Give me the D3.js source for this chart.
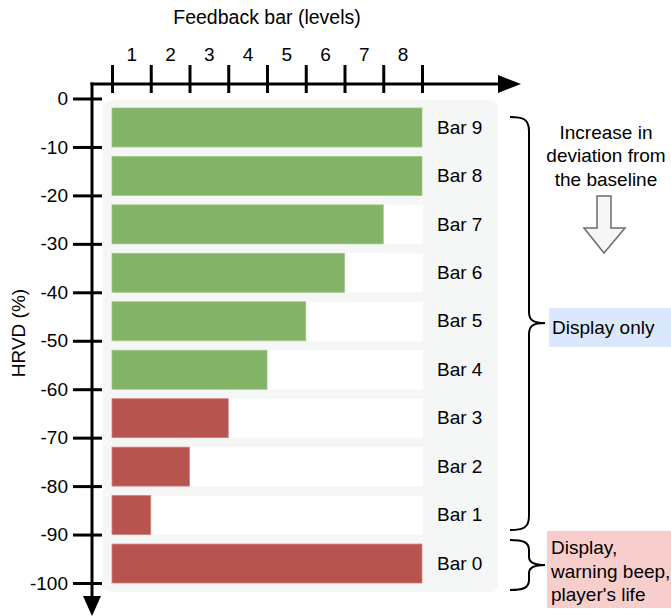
<!DOCTYPE html>
<html>
<head>
<meta charset="utf-8">
<script src="https://cdn.jsdelivr.net/npm/d3@7"></script>
<style>
  html, body { margin: 0; padding: 0; background: #ffffff; }
  svg { display: block; }
  text { font-family: "Liberation Sans", Arial, Helvetica, sans-serif; fill: #000; }
</style>
</head>
<body>
<svg id="chart" width="671" height="616"></svg>
<script>
// ---- data ----
const categories = ["Bar 9", "Bar 8", "Bar 7", "Bar 6", "Bar 5", "Bar 4", "Bar 3", "Bar 2", "Bar 1", "Bar 0"];
const levels     = [8, 8, 7, 6, 5, 4, 3, 2, 1, 8];
const hrvdUpper  = [0, -10, -20, -30, -40, -50, -60, -70, -80, -90];
const hrvdLower  = [-10, -20, -30, -40, -50, -60, -70, -80, -90, -100];
const zones      = ["safe", "safe", "safe", "safe", "safe", "safe", "alert", "alert", "alert", "alert"];
const levelTicks = [0, 1, 2, 3, 4, 5, 6, 7, 8];
const levelLabels = ["1", "2", "3", "4", "5", "6", "7", "8"];
const hrvdTicks  = [0, -10, -20, -30, -40, -50, -60, -70, -80, -90, -100];
const xTitle = "Feedback bar (levels)";
const yTitle = "HRVD (%)";
const noteLines = ["Increase in", "deviation from", "the baseline"];
const displayOnly = "Display only";
const alertLines = ["Display,", "warning beep,", "player's life"];

// ---- setup ----
const svg = d3.select("#chart");
const FONT = 19;
const x = d3.scaleLinear().domain([0, 8]).range([112, 422]);
const y = d3.scaleLinear().domain([0, -100]).range([98.5, 583]);
const color = d3.scaleOrdinal().domain(["safe", "alert"]).range(["#82b366", "#b85450"]);

const rows = categories.map((c, i) => ({
  name: c, level: levels[i], hi: hrvdUpper[i], lo: hrvdLower[i], zone: zones[i]
}));

// panel background
svg.append("rect")
  .attr("x", 103).attr("y", 100).attr("width", 395).attr("height", 492)
  .attr("rx", 8).attr("fill", "#f5f6f6");

// tracks (white)
const barGap = 9.5;
svg.append("g").selectAll("rect").data(rows).join("rect")
  .attr("x", x(0)).attr("width", x(8) - x(0) + 1)
  .attr("y", d => y(d.hi) + barGap)
  .attr("height", d => y(d.lo) - y(d.hi) - barGap)
  .attr("fill", "#ffffff");

// bars
svg.append("g").selectAll("rect").data(rows).join("rect")
  .attr("x", x(0))
  .attr("width", d => x(d.level) - x(0))
  .attr("y", d => y(d.hi) + barGap)
  .attr("height", d => y(d.lo) - y(d.hi) - barGap)
  .attr("fill", d => color(d.zone))
  .attr("stroke", d => d.zone === "safe" ? "#9cc585" : "#d4807c")
  .attr("stroke-width", 0.8);

// bar labels
svg.append("g").selectAll("text").data(rows).join("text")
  .attr("x", 437)
  .attr("y", d => (y(d.hi) + barGap + y(d.lo)) / 2 - 0.5)
  .attr("dy", "0.35em")
  .attr("font-size", FONT)
  .text(d => d.name);

// ---- axes ----
const axisX = 92, axisY = 84;
// horizontal axis line + arrow
svg.append("line").attr("x1", axisX - 1.5).attr("x2", 500).attr("y1", axisY).attr("y2", axisY)
  .attr("stroke", "#000").attr("stroke-width", 3);
svg.append("path").attr("d", `M498,${axisY - 9} L521,${axisY} L498,${axisY + 9} Z`).attr("fill", "#000");
// vertical axis line + arrow
svg.append("line").attr("x1", axisX).attr("x2", axisX).attr("y1", axisY - 1.5).attr("y2", 598)
  .attr("stroke", "#000").attr("stroke-width", 3);
svg.append("path").attr("d", `M${axisX - 9},596 L${axisX},616 L${axisX + 9},596 Z`).attr("fill", "#000");

// top ticks
const topAxis = svg.append("g").attr("transform", "translate(0,93)")
  .call(d3.axisTop(x).tickValues(levelTicks).tickSize(28).tickFormat(""));
topAxis.select(".domain").remove();
topAxis.selectAll("line").attr("stroke", "#000").attr("stroke-width", 3);

// top labels (centered in each interval)
const topLab = svg.append("g").attr("transform", "translate(0,61)")
  .call(d3.axisTop(x).tickValues(levelLabels.map((l, i) => i + 0.5)).tickSize(0).tickPadding(0)
    .tickFormat((d, i) => levelLabels[i]));
topLab.select(".domain").remove();
topLab.selectAll("text").attr("font-size", FONT).attr("font-family", "Liberation Sans, Arial, sans-serif")
  .attr("fill", "#000").attr("dy", 0);

// left ticks
const leftAxis = svg.append("g").attr("transform", "translate(102,0)")
  .call(d3.axisLeft(y).tickValues(hrvdTicks).tickSize(29).tickPadding(5).tickFormat(d => String(d)));
leftAxis.select(".domain").remove();
leftAxis.selectAll("line").attr("stroke", "#000").attr("stroke-width", 3);
leftAxis.selectAll("text").attr("font-size", FONT).attr("font-family", "Liberation Sans, Arial, sans-serif")
  .attr("fill", "#000");

// titles
svg.append("text").attr("x", (x(0) + x(8)) / 2).attr("y", 24)
  .attr("text-anchor", "middle").attr("font-size", 19.5).text(xTitle);
svg.append("text").attr("transform", "translate(25,333) rotate(-90)")
  .attr("text-anchor", "middle").attr("font-size", FONT).text(yTitle);

// ---- annotations ----
// big brace
svg.append("path")
  .attr("d", "M510,117 C523,117 529,119 529,131 L529,312 C529,320 533,323 545,323 " +
             "M545,323 C533,323 529,326 529,334 L529,516 C529,528 523,530 510,530")
  .attr("fill", "none").attr("stroke", "#000").attr("stroke-width", 2);
// small brace
svg.append("path")
  .attr("d", "M510,540 C523,540 529,542 529,550 L529,557 C529,562 533,565 545,565 " +
             "M545,565 C533,565 529,568 529,573 L529,580 C529,588 523,590 510,590")
  .attr("fill", "none").attr("stroke", "#000").attr("stroke-width", 2);

// note text
svg.append("g").selectAll("text").data(noteLines).join("text")
  .attr("x", 606).attr("y", (d, i) => 138.5 + i * 23.5)
  .attr("text-anchor", "middle").attr("font-size", FONT).text(d => d);

// hollow down arrow
svg.append("path")
  .attr("d", "M597,196 L611,196 L611,228 L625,228 L604,253 L584,228 L597,228 Z")
  .attr("fill", "#f5f6f6").attr("stroke", "#6b6b6b").attr("stroke-width", 1.5)
  .attr("stroke-linejoin", "miter");

// display only box
svg.append("rect").attr("x", 549).attr("y", 308).attr("width", 130).attr("height", 39)
  .attr("fill", "#dae8fc");
svg.append("text").attr("x", 552).attr("y", 327).attr("dy", "0.35em")
  .attr("font-size", FONT).text(displayOnly);

// alert box
svg.append("rect").attr("x", 547).attr("y", 531).attr("width", 130).attr("height", 77)
  .attr("fill", "#f8cecc");
svg.append("g").selectAll("text").data(alertLines).join("text")
  .attr("x", 551).attr("y", (d, i) => 554 + i * 23.5)
  .attr("font-size", FONT).text(d => d);
</script>
</body>
</html>
